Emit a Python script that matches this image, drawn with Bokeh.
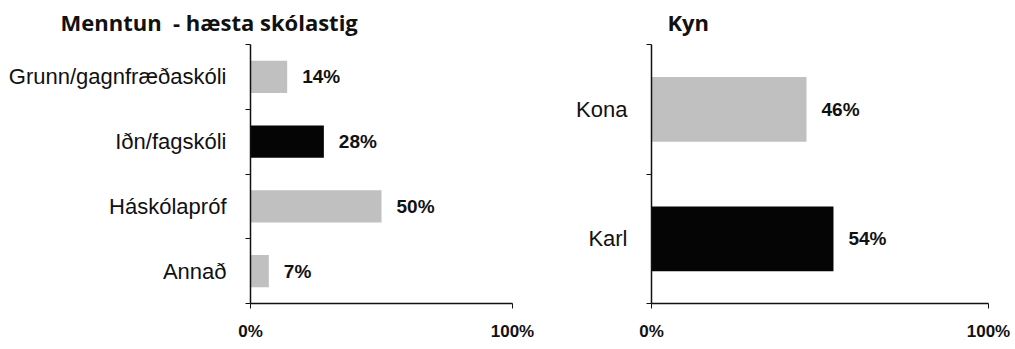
from bokeh.plotting import figure
from bokeh.layouts import row
from bokeh.models import ColumnDataSource, FixedTicker, Range1d, LabelSet
from bokeh.core.properties import value
from bokeh.embed import file_html
from bokeh.resources import INLINE

# Education: highest completed school level (top to bottom)
edu_categories = ["Grunn/gagnfræðaskóli", "Iðn/fagskóli", "Háskólapróf", "Annað"]
edu_values = [14, 28, 50, 7]
edu_colors = ["#c0c0c0", "#050505", "#c0c0c0", "#c0c0c0"]

# Gender (top to bottom)
sex_categories = ["Kona", "Karl"]
sex_values = [46, 54]
sex_colors = ["#c0c0c0", "#050505"]

x_ticks = [0, 100]
x_tick_labels = {0: "0%", 100: "100%"}

LABEL_FONT = "Liberation Sans"
TITLE_FONT = "Open Sans"


def make_panel(title, categories, values, colors, width, height,
               border_left, border_right, border_top, border_bottom, title_offset):
    n = len(categories)
    # categories listed top-down; place them at n-0.5, n-1.5, ...
    ypos = [n - 0.5 - i for i in range(n)]
    src = ColumnDataSource(dict(
        y=ypos, v=values, color=colors,
        lbl=[f"{v}%" for v in values],
    ))
    p = figure(width=width, height=height, output_backend="svg",
               toolbar_location=None, x_range=Range1d(0, 100),
               y_range=Range1d(0, n),
               min_border_left=border_left, min_border_right=border_right,
               min_border_top=border_top, min_border_bottom=border_bottom)
    p.outline_line_color = None
    p.xgrid.visible = False
    p.ygrid.visible = False
    p.background_fill_color = "white"
    p.border_fill_color = "white"

    p.hbar(y="y", right="v", left=0, height=0.5, color="color",
           line_color=None, source=src)

    labels = LabelSet(x="v", y="y", text="lbl", source=src, x_offset=15,
                      text_font=value(LABEL_FONT), text_font_style="bold",
                      text_font_size="19px", text_baseline="middle",
                      text_color="#111111")
    p.add_layout(labels)

    # y axis: labels at category centers, tick marks at category boundaries
    ya = p.yaxis[0]
    ya.ticker = FixedTicker(ticks=ypos, minor_ticks=list(range(n + 1)))
    ya.major_label_overrides = {y: c for y, c in zip(ypos, categories)}
    ya.major_tick_line_color = None
    ya.minor_tick_in = 0
    ya.minor_tick_out = 5
    ya.minor_tick_line_color = "#111111"
    ya.axis_line_color = "#111111"
    ya.axis_line_width = 1.5
    ya.major_label_text_font = LABEL_FONT
    ya.major_label_text_font_size = "22px"
    ya.major_label_text_color = "#111111"
    ya.major_label_standoff = 18

    xa = p.xaxis[0]
    xa.ticker = FixedTicker(ticks=x_ticks, minor_ticks=[])
    xa.major_label_overrides = x_tick_labels
    xa.major_tick_in = 0
    xa.major_tick_out = 5
    xa.major_tick_line_color = "#111111"
    xa.axis_line_color = "#111111"
    xa.axis_line_width = 1.5
    xa.major_label_text_font = LABEL_FONT
    xa.major_label_text_font_style = "bold"
    xa.major_label_text_font_size = "17px"
    xa.major_label_text_color = "#111111"
    xa.major_label_standoff = 13

    p.title.text = title
    p.title.align = "left"
    p.title.vertical_align = "top"
    p.title.offset = title_offset
    p.title.text_font = TITLE_FONT
    p.title.text_font_style = "bold"
    p.title.text_font_size = "22px"
    p.title.text_color = "#111111"
    p.title.standoff = 12
    return p


p1 = make_panel("Menntun \u00a0- hæsta skólastig", edu_categories, edu_values,
                edu_colors, 560, 349, 250, 48, 44, 41, -190)
p2 = make_panel("Kyn", sex_categories, sex_values, sex_colors,
                455, 349, 91, 27, 43, 46, 16)

layout = row(p1, p2)
open("out.html", "w").write(file_html(layout, INLINE))
